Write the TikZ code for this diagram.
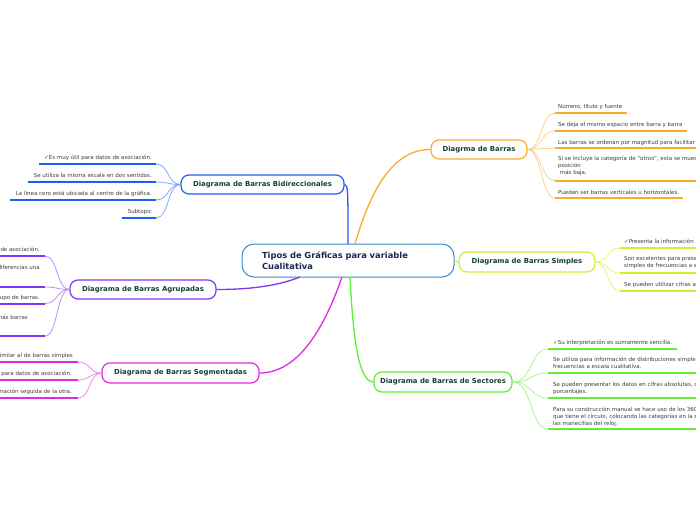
\documentclass[tikz,border=0pt]{standalone}
\usepackage{fontspec}
\setmainfont{DejaVu Sans}
\definecolor{cBlue}{RGB}{30,95,240}
\definecolor{cOrange}{RGB}{250,170,45}
\definecolor{cYellow}{RGB}{205,240,45}
\definecolor{cGreen}{RGB}{95,240,50}
\definecolor{cMag}{RGB}{225,40,225}
\definecolor{cPurp}{RGB}{125,55,240}
\definecolor{cCenter}{RGB}{55,140,205}
\definecolor{titleC}{RGB}{20,65,50}
\definecolor{centerT}{RGB}{25,40,80}
\definecolor{leafT}{RGB}{60,60,60}
\tikzset{
  topic/.style={draw, line width=1.2pt, rounded corners=8pt, fill=white,
    font=\fontsize{6.9}{8}\selectfont\bfseries, text=titleC, inner sep=0pt, align=center},
  leaf/.style={font=\fontsize{5.5}{7.2}\selectfont, text=leafT, inner sep=0pt, align=left},
  leafR/.style={leaf, anchor=base east},
  leafL/.style={leaf, anchor=base west},
  uline/.style={line width=2pt},
  twig/.style={line width=0.8pt},
  branch/.style={line width=1.3pt},
}
\begin{document}
\begin{tikzpicture}[x=1pt,y=-1pt]
\useasboundingbox (0,0) rectangle (696,520);
\clip (0,0) rectangle (696,520);

% ---------- topic nodes ----------
\node[draw=cCenter, line width=1pt, rounded corners=12pt, fill=white,
  minimum width=212pt, minimum height=33pt, text width=172pt, inner xsep=20pt, inner ysep=0pt,
  align=left, font=\fontsize{8.35}{10.8}\selectfont\bfseries, text=centerT] (root) at (348,260.5)
  {Tipos de Gráficas para variable\\Cualitativa};
\node[topic, draw=cBlue, minimum width=163pt, minimum height=19pt] (bidi) at (262.5,184.5) {Diagrama de Barras Bidireccionales};
\node[topic, draw=cOrange, minimum width=96pt, minimum height=19pt] (barras) at (479,149.5) {Diagrma de Barras};
\node[topic, draw=cYellow, minimum width=136pt, minimum height=20pt] (simples) at (527,262) {Diagrama de Barras Simples};
\node[topic, draw=cGreen, minimum width=138pt, minimum height=20pt] (sect) at (443,382) {Diagrama de Barras de Sectores};
\node[topic, draw=cMag, minimum width=157pt, minimum height=20pt] (segm) at (180.5,373) {Diagrama de Barras Segmentadas};
\node[topic, draw=cPurp, minimum width=146pt, minimum height=19pt] (agru) at (143,289.5) {Diagrama de Barras Agrupadas};

% ---------- main branches ----------
\coordinate (rBlue) at (348,244);
\coordinate (rOrange) at (355,244);
\coordinate (rGreen) at (350,277);
\coordinate (rMag) at (342,277);
\coordinate (rPurp) at (300,277);
\draw[branch, cBlue] (bidi.east) .. controls (348,184.5) and (348,190) .. (rBlue);
\draw[branch, cOrange] (rOrange) .. controls (372,185) and (395,149.5) .. (barras.west);
\draw[branch, cYellow] (root.east) -- (simples.west);
\draw[branch, cGreen] (rGreen) .. controls (353,335) and (358,382) .. (sect.west);
\draw[branch, cMag] (rMag) .. controls (322,335) and (295,373) .. (segm.east);
\draw[branch, cPurp] (rPurp) .. controls (275,287) and (245,289.5) .. (agru.east);

% ---------- Bidireccionales leaves ----------
\foreach \n/\xa/\y in {b1/39/164, b2/28/182, b3/10/200, b4/122/218}{
  \coordinate (\n a) at (\xa,\y); \coordinate (\n b) at (156,\y);
  \draw[uline, cBlue] (\n a) -- (\n b);
  \draw[twig, cBlue!55] (bidi.west) .. controls +(-13,0) and +(13,0) .. (\n b);
}
\node[leafR] (b1) at (152,159) {✓Es muy útil para datos de asociación.};
\node[leafR] (b2) at (152,177) {Se utiliza la misma escala en dos sentidos.};
\node[leafR] (b3) at (152,195) {La línea cero está ubicada al centro de la gráfica.};
\node[leafR] (b4) at (152,213) {Subtopic};

% ---------- Agrupadas leaves ----------
\foreach \n/\y in {a1/256, a2/287, a3/303.5, a4/336}{
  \coordinate (\n a) at (-5,\y); \coordinate (\n b) at (45,\y);
  \draw[uline, cPurp] (\n a) -- (\n b);
  \draw[twig, cPurp!55] (agru.west) .. controls +(-13,0) and +(13,0) .. (\n b);
}
\node[leafR] (a1) at (40,251) {de asociación.};
\node[leafR] (a2) at (40,269) {diferencias una};
\node[leafR] (a3) at (40,299) {upo de barras.};
\node[leafR] (a4) at (28,319) {más barras};

% ---------- Segmentadas leaves ----------
\foreach \n/\y in {s1/362, s2/380, s3/398}{
  \coordinate (\n a) at (-5,\y); \coordinate (\n b) at (78,\y);
  \draw[uline, cMag] (\n a) -- (\n b);
  \draw[twig, cMag!55] (segm.west) .. controls +(-13,0) and +(13,0) .. (\n b);
}
\node[leafR] (s1) at (73,357) {imilar al de barras simples};
\node[leafR] (s2) at (72,375) {para datos de asociación.};
\node[leafR] (s3) at (72,393) {mación seguida de la otra.};

% ---------- Barras leaves ----------
\foreach \n/\xb/\y in {r1/627/113, r2/687/131, r3/705/148, r4/705/180.5, r5/683/198}{
  \coordinate (\n a) at (555,\y); \coordinate (\n b) at (\xb,\y);
  \draw[uline, cOrange] (\n a) -- (\n b);
  \draw[twig, cOrange!55] (barras.east) .. controls +(14,0) and +(-14,0) .. (\n a);
}
\node[leafL] (r1) at (558,108) {Número, título y fuente};
\node[leafL] (r2) at (558,126) {Se deja el mismo espacio entre barra y barra};
\node[leafL] (r3) at (558,144) {Las barras se ordenan por magnitud para facilitar};
\node[leafL] (r4) at (558,174.4) {Si se incluye la categoría de "otros", esta se mues\\posición\\~más baja.};
\node[leafL] (r5) at (558,194) {Pueden ser barras verticales u horizontales.};

% ---------- Simples leaves ----------
\foreach \n/\y in {y1/248, y2/273, y3/291}{
  \coordinate (\n a) at (620,\y); \coordinate (\n b) at (705,\y);
  \draw[uline, cYellow] (\n a) -- (\n b);
  \draw[twig, cYellow!60] (simples.east) .. controls +(13,0) and +(-13,0) .. (\n a);
}
\node[leafL] (y1) at (624,243) {✓Presenta la información};
\node[leafL] (y2) at (624,267.2) {Son excelentes para prese\\simples de frecuencias a e};
\node[leafL] (y3) at (624,286) {Se pueden utilizar cifras a};

% ---------- Sectores leaves ----------
\foreach \n/\xb/\y in {g1/677/349, g2/705/373, g3/705/398, g4/705/429}{
  \coordinate (\n a) at (548,\y); \coordinate (\n b) at (\xb,\y);
  \draw[uline, cGreen] (\n a) -- (\n b);
  \draw[twig, cGreen!55] (sect.east) .. controls +(20,0) and +(-18,0) .. (\n a);
}
\node[leafL] (g1) at (553,344) {✓Su interpretación es sumamente sencilla.};
\node[leafL] (g2) at (553,368.2) {Se utiliza para información de distribuciones simple\\frecuencias a escala cualitativa.};
\node[leafL] (g3) at (553,393.2) {Se pueden presentar los datos en cifras absolutas, o\\porcentajes.};
\node[leafL] (g4) at (553,425.4) {Para su construcción manual se hace uso de los 360\\que tiene el círculo, colocando las categorías en la s\\las manecillas del reloj.};
\end{tikzpicture}
\end{document}
